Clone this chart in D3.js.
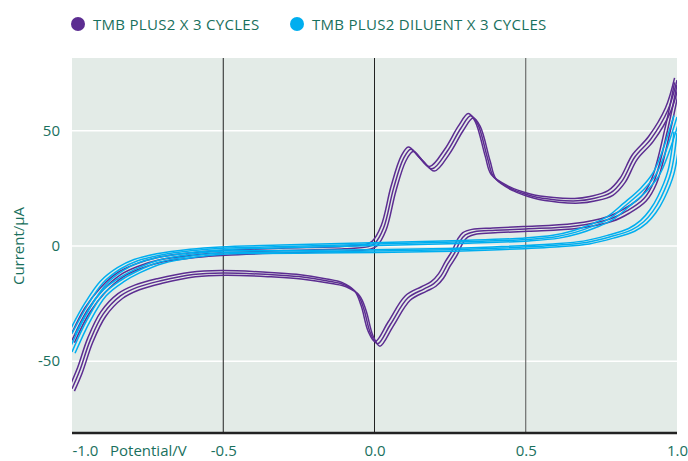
<!DOCTYPE html>
<html>
<head>
<meta charset="utf-8">
<script src="https://cdn.jsdelivr.net/npm/d3@7"></script>
<style>
  body { margin: 0; background: #fff; }
  text { font-family: "Open Sans", "Lato", sans-serif; fill: #19705d; }
</style>
</head>
<body>
<script>
// potential (V) / current (uA) pairs
var purpleForward = [[-1.0,-41],[-0.95,-28],[-0.897,-19],[-0.84,-12.5],[-0.785,-9],[-0.71,-6],[-0.6,-4],[-0.5,-3],[-0.3,-2],[-0.1,-1.2],[-0.02,-0.3],[0.0,1],[0.03,7.8],[0.063,25],[0.096,38],[0.12,42],[0.152,38],[0.19,33.5],[0.24,41],[0.285,51],[0.318,56.5],[0.341,53],[0.374,38],[0.394,30],[0.45,25],[0.52,21.7],[0.6,20],[0.67,19.6],[0.72,20.5],[0.78,23],[0.82,28.5],[0.86,38.5],[0.914,46.5],[0.97,59],[1.0,72]];
var purpleReverse = [[1.0,70],[0.97,51],[0.924,28],[0.89,20.5],[0.834,15.2],[0.778,11.7],[0.666,8.7],[0.5,7.4],[0.4,6.8],[0.33,6.2],[0.3,4.8],[0.283,2],[0.265,-3],[0.242,-7.8],[0.22,-13],[0.195,-16.5],[0.163,-18.7],[0.11,-22.6],[0.053,-34],[0.01,-42.5],[-0.013,-38],[-0.036,-27],[-0.058,-20.5],[-0.1,-16.8],[-0.15,-15.3],[-0.25,-13.3],[-0.35,-12.4],[-0.5,-11.7],[-0.6,-12.4],[-0.71,-15.2],[-0.785,-18],[-0.84,-21.7],[-0.897,-29.6],[-0.94,-41],[-0.974,-54],[-1.0,-62]];
var blueForward = [[-1.0,-38],[-0.95,-26],[-0.897,-16],[-0.84,-10],[-0.785,-6.5],[-0.71,-4],[-0.6,-2],[-0.5,-1],[-0.3,-0.2],[0.0,0.8],[0.3,1.8],[0.5,2.8],[0.6,4],[0.666,6],[0.72,8.5],[0.778,12],[0.834,18],[0.89,24.5],[0.93,31],[0.96,40],[1.0,56]];
var blueReverse = [[1.0,49],[0.98,32],[0.947,21],[0.92,15],[0.89,10.5],[0.85,7],[0.78,4],[0.7,1.5],[0.6,0.3],[0.4,-1],[0.2,-1.8],[0.0,-2.2],[-0.2,-2.5],[-0.4,-2.7],[-0.5,-2.9],[-0.6,-4.2],[-0.71,-7],[-0.785,-11],[-0.84,-15],[-0.897,-21],[-0.95,-32],[-1.0,-46]];
// shift of cycle 1,2,3 against the middle one
var purpleShiftE = [-0.008, 0, 0.008], purpleShiftI = [1, 0, -1];
var blueShiftE = [-0.01, 0, 0.01], blueShiftI = [0.6, 0, -0.6];

var xTicks = [-1.0, -0.5, 0.0, 0.5, 1.0];
var yTicks = [-50, 0, 50];
var legendLabels = ["TMB PLUS2 X 3 CYCLES", "TMB PLUS2 DILUENT X 3 CYCLES"];
var colors = ["#5c2d91", "#00aeef"];

var margin = {top: 58, right: 11, bottom: 28, left: 72},
    width = 688 - margin.left - margin.right,
    height = 461 - margin.top - margin.bottom;

var svg = d3.select("body").append("svg")
    .attr("width", 688)
    .attr("height", 461);

var x = d3.scaleLinear().domain([-1, 1]).range([0, width]);
var y = d3.scaleLinear().domain([-81.2, 81.6]).range([height, 0]);

// plain hyphen for negatives, like the original
var fmt1 = d => d3.format(".1f")(d).replace("\u2212", "-");
var fmt0 = d => d3.format("d")(d).replace("\u2212", "-");

var g = svg.append("g")
    .attr("transform", "translate(" + margin.left + "," + margin.top + ")");

g.append("rect")
    .attr("width", width)
    .attr("height", height)
    .attr("fill", "#e3ebe7");

g.append("clipPath").attr("id", "clip")
  .append("rect").attr("width", width).attr("height", height);

// white horizontal grid
g.selectAll(".hgrid").data(yTicks).enter().append("line")
    .attr("x1", 0).attr("x2", width)
    .attr("y1", d => y(d)).attr("y2", d => y(d))
    .attr("stroke", "#fff").attr("stroke-width", 1.5);

// dark vertical lines
g.selectAll(".vgrid").data([-0.5, 0, 0.5]).enter().append("line")
    .attr("x1", d => x(d)).attr("x2", d => x(d))
    .attr("y1", 0).attr("y2", height)
    .attr("stroke", (d, i) => i == 2 ? "#555" : "#222").attr("stroke-width", 1);

var line = d3.line()
    .x(d => x(d[0]))
    .y(d => y(d[1]))
    .curve(d3.curveCatmullRom.alpha(0.5));

var curves = g.append("g").attr("clip-path", "url(#clip)");

let drawLoop = (branches, shiftE, shiftI, color) => {
  for (var c = 0; c < 3; c++) {
    branches.forEach(b => {
      var pts = b.map(p => [p[0] + shiftE[c], p[1] + shiftI[c]]);
      curves.append("path")
        .datum(pts)
        .attr("d", line)
        .attr("fill", "none")
        .attr("stroke", color)
        .attr("stroke-width", 1.5);
    });
  }
}
drawLoop([purpleForward, purpleReverse], purpleShiftE, purpleShiftI, colors[0]);
drawLoop([blueForward, blueReverse], blueShiftE, blueShiftI, colors[1]);

// bottom axis
g.append("line")
    .attr("x1", 0).attr("x2", width)
    .attr("y1", height).attr("y2", height)
    .attr("stroke", "#222").attr("stroke-width", 2.5);

var xAxis = g.append("g")
    .attr("transform", "translate(0," + height + ")")
    .call(d3.axisBottom(x).tickValues(xTicks).tickSize(0).tickPadding(12).tickFormat(fmt1));
xAxis.select(".domain").remove();
xAxis.selectAll("text")
    .style("font-size", "15px")
    .attr("text-anchor", (d, i) => i == 0 ? "start" : "middle");

var yAxis = g.append("g")
    .call(d3.axisLeft(y).tickValues(yTicks).tickSize(0).tickPadding(12).tickFormat(fmt0));
yAxis.select(".domain").remove();
yAxis.selectAll("text").style("font-size", "15px");

svg.append("text")
    .attr("x", 110).attr("y", 455.5)
    .style("font-size", "15px")
    .text("Potential/V");

svg.append("text")
    .attr("transform", "translate(24,246) rotate(-90)")
    .attr("text-anchor", "middle")
    .style("font-size", "15px")
    .text("Current/μA");

// legend
var legendX = [78, 297];
legendLabels.forEach((l, i) => {
  svg.append("circle")
    .attr("cx", legendX[i]).attr("cy", 24).attr("r", 7)
    .attr("fill", colors[i]);
  svg.append("text")
    .attr("x", legendX[i] + 15).attr("y", 29.5)
    .style("font-size", "15px")
    .style("letter-spacing", "0.3px")
    .text(l);
});
</script>
</body>
</html>
